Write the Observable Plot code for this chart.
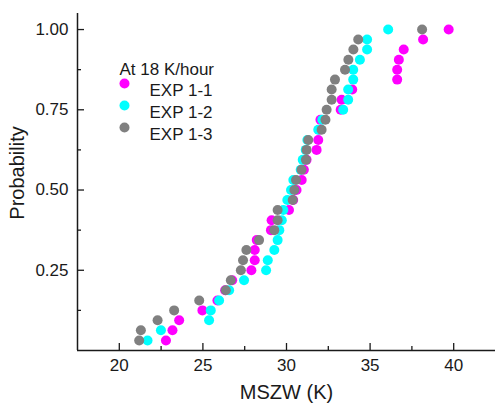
<!DOCTYPE html>
<html>
<head>
<meta charset="utf-8">
<script src="https://cdn.jsdelivr.net/npm/d3@7"></script>
<script src="https://cdn.jsdelivr.net/npm/@observablehq/plot@0.6"></script>
<style>
  html, body { margin: 0; padding: 0; background: #fff; }
  #chart { width: 495px; height: 409px; }
  svg { font-family: "Liberation Sans", Arial, sans-serif; }
</style>
</head>
<body>
<div id="chart"></div>
<script>
const seriesNames = ["EXP 1-1", "EXP 1-2", "EXP 1-3"];
const seriesColors = ["#ff00ff", "#00ffff", "#808080"];
const legendTitle = "At 18 K/hour";
const xLabel = "MSZW (K)";
const yLabel = "Probability";
const xTicks = [20, 25, 30, 35, 40];
const xMinorTicks = [22.5, 27.5, 32.5, 37.5];
const yTicks = [0.25, 0.5, 0.75, 1.0];
const yMinorTicks = [0.125, 0.375, 0.625, 0.875];

const probability = [0.031, 0.063, 0.094, 0.125, 0.156, 0.188, 0.219, 0.25,
  0.281, 0.313, 0.344, 0.375, 0.406, 0.438, 0.469, 0.5,
  0.531, 0.563, 0.594, 0.625, 0.656, 0.688, 0.719, 0.75,
  0.781, 0.813, 0.844, 0.875, 0.906, 0.938, 0.969, 1.0];

const exp11 = [22.79, 23.18, 23.58, 24.97, 25.87, 26.33, 26.75, 27.9,
  28.1, 28.1, 28.22, 29.07, 29.11, 30.15, 30.4, 30.6,
  30.91, 31.04, 31.2, 31.8, 31.9, 31.95, 32.03, 33.24,
  33.3, 33.93, 36.62, 36.62, 36.72, 37.01, 38.17, 39.7];
const exp12 = [21.69, 22.49, 25.37, 25.47, 25.97, 26.57, 27.46, 28.78,
  28.88, 29.27, 29.47, 29.57, 29.72, 29.81, 30.05, 30.27,
  30.41, 30.85, 30.97, 31.15, 31.25, 31.9, 32.14, 33.39,
  33.69, 33.69, 33.99, 33.99, 34.39, 34.82, 34.82, 36.08];
const exp13 = [21.19, 21.29, 22.29, 23.28, 24.78, 26.37, 26.67, 27.27,
  27.4, 27.6, 28.36, 29.27, 29.47, 29.47, 30.37, 30.47,
  30.57, 30.9, 31.16, 31.2, 31.3, 32.1, 32.33, 32.4,
  32.7, 32.7, 32.9, 33.5, 33.7, 34.0, 34.29, 38.11];

const seriesValues = [exp11, exp12, exp13];
const points = seriesValues.flatMap((vals, s) =>
  vals.map((v, i) => ({series: seriesNames[s], x: v, p: probability[i]})));

const ink = "#1a1a1a";
const font = 17;

const legendMarks = [
  Plot.text([legendTitle], {frameAnchor: "top-left", dx: 42, dy: 49, textAnchor: "start", fontSize: font, fill: ink}),
  ...seriesNames.map((name, i) => Plot.dot([name], {frameAnchor: "top-left", dx: 47, dy: 70 + 22 * i, r: 5, fill: seriesColors[i], stroke: null})),
  ...seriesNames.map((name, i) => Plot.text([name], {frameAnchor: "top-left", dx: 72, dy: 70 + 22 * i, textAnchor: "start", fontSize: font, fill: ink}))
];

const chart = Plot.plot({
  width: 495,
  height: 409,
  marginLeft: 77,
  marginRight: 0,
  marginTop: 13,
  marginBottom: 59,
  style: {fontFamily: "'Liberation Sans', Arial, sans-serif", color: ink, background: "#fff"},
  x: {domain: [17.5, 42.5]},
  y: {domain: [0, 1.05]},
  color: {domain: seriesNames, range: seriesColors},
  marks: [
    Plot.axisX({ticks: xTicks, tickSize: 0, tickPadding: 8, fontSize: font, label: null, tickFormat: d => String(d)}),
    Plot.axisX({ticks: xTicks, tickSize: -7, text: null, label: null, strokeWidth: 1.3}),
    Plot.axisX({ticks: xMinorTicks, tickSize: -4, text: null, label: null, strokeWidth: 1.3}),
    Plot.axisY({ticks: yTicks, tickSize: 0, tickPadding: 9, fontSize: font, label: null, tickFormat: d => d.toFixed(2)}),
    Plot.axisY({ticks: yTicks, tickSize: -7, text: null, label: null, strokeWidth: 1.3}),
    Plot.axisY({ticks: yMinorTicks, tickSize: -4, text: null, label: null, strokeWidth: 1.3}),
    Plot.ruleY([0], {stroke: ink, strokeWidth: 1.5}),
    Plot.ruleX([17.5], {stroke: ink, strokeWidth: 1.5}),
    Plot.text([xLabel], {frameAnchor: "bottom", dy: 48, fontSize: 20, fill: ink}),
    Plot.text([yLabel], {frameAnchor: "left", dx: -60, dy: -9, rotate: -90, textAnchor: "middle", fontSize: 20, fill: ink}),
    Plot.dot(points, {x: "x", y: "p", fill: "series", r: 5, stroke: null}),
    ...legendMarks
  ]
});
document.getElementById("chart").appendChild(chart);
</script>
</body>
</html>
